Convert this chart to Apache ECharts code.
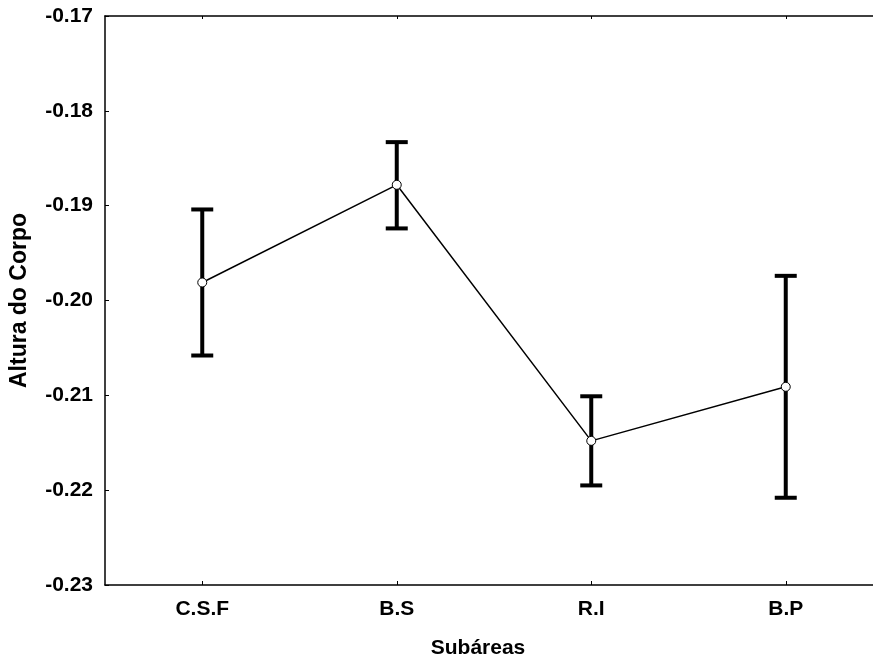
<!DOCTYPE html>
<html>
<head>
<meta charset="utf-8">
<script src="https://cdn.jsdelivr.net/npm/echarts@6/dist/echarts.min.js"></script>
<style>
  html, body { margin: 0; padding: 0; background: #fff; }
  #chart { width: 873px; height: 659px; }
</style>
</head>
<body>
<div id="chart"></div>
<script>
const categories = ['C.S.F', 'B.S', 'R.I', 'B.P'];
const means = [-0.1981, -0.1878, -0.2148, -0.2091];
const upper = [-0.1904, -0.1833, -0.2101, -0.1974];
const lower = [-0.2058, -0.1924, -0.2195, -0.2208];
const yMin = -0.23, yMax = -0.17, yStep = 0.01;
const xTitle = 'Subáreas';
const yTitle = 'Altura do Corpo';

const FONT = '"Liberation Sans", Arial, Helvetica, sans-serif';
const chart = echarts.init(document.getElementById('chart'), null, { renderer: 'canvas' });

const errData = categories.map((c, i) => [i, upper[i], lower[i]]);

chart.setOption({
  animation: false,
  backgroundColor: '#fff',
  grid: { left: 105, right: -10, top: 16, bottom: 74, containLabel: false, outerBoundsMode: 'none' },
  xAxis: [{
    type: 'category',
    data: categories,
    position: 'bottom',
    boundaryGap: true,
    axisLine: { show: true, lineStyle: { color: '#000', width: 1.5 } },
    axisTick: { show: true, inside: true, length: 4, alignWithLabel: true, lineStyle: { color: '#000', width: 1 } },
    axisLabel: { color: '#000', fontFamily: FONT, fontWeight: 'bold', fontSize: 21, margin: 14 },
    splitLine: { show: false },
    name: xTitle,
    nameLocation: 'middle',
    nameGap: 53,
    nameTextStyle: { color: '#000', fontFamily: FONT, fontWeight: 'bold', fontSize: 21, padding: [0, 32, 0, 0] }
  }, {
    type: 'category',
    data: categories,
    position: 'top',
    boundaryGap: true,
    axisLine: { show: true, lineStyle: { color: '#000', width: 1.5 } },
    axisTick: { show: true, inside: true, length: 3, alignWithLabel: true, lineStyle: { color: '#000', width: 1 } },
    axisLabel: { show: false },
    splitLine: { show: false }
  }],
  yAxis: {
    type: 'value',
    min: yMin,
    max: yMax,
    interval: yStep,
    axisLine: { show: true, lineStyle: { color: '#000', width: 1.5 } },
    axisTick: { show: true, inside: true, length: 4, lineStyle: { color: '#000', width: 1 } },
    axisLabel: {
      color: '#000', fontFamily: FONT, fontWeight: 'bold', fontSize: 21, margin: 12,
      formatter: v => v.toFixed(2)
    },
    splitLine: { show: false },
    name: yTitle,
    nameLocation: 'middle',
    nameGap: 74,
    nameRotate: 90,
    nameTextStyle: { color: '#000', fontFamily: FONT, fontWeight: 'bold', fontSize: 23 }
  },
  series: [{
    type: 'custom',
    xAxisIndex: 0,
    z: 2,
    data: errData,
    encode: { x: 0, y: [1, 2] },
    renderItem: function (params, api) {
      const x = api.value(0);
      const p1 = api.coord([x, api.value(1)]);
      const p2 = api.coord([x, api.value(2)]);
      const hw = 11;
      const style = { stroke: '#000', lineWidth: 4 };
      return {
        type: 'group',
        children: [
          { type: 'line', shape: { x1: p1[0], y1: p1[1], x2: p2[0], y2: p2[1] }, style },
          { type: 'line', shape: { x1: p1[0] - hw, y1: p1[1], x2: p1[0] + hw, y2: p1[1] }, style },
          { type: 'line', shape: { x1: p2[0] - hw, y1: p2[1], x2: p2[0] + hw, y2: p2[1] }, style }
        ]
      };
    }
  }, {
    type: 'line',
    xAxisIndex: 0,
    z: 5,
    data: means,
    symbol: 'circle',
    symbolSize: 9,
    showAllSymbol: true,
    lineStyle: { color: '#000', width: 1.5 },
    itemStyle: { color: '#fff', borderColor: '#000', borderWidth: 1 }
  }]
});
</script>
</body>
</html>
